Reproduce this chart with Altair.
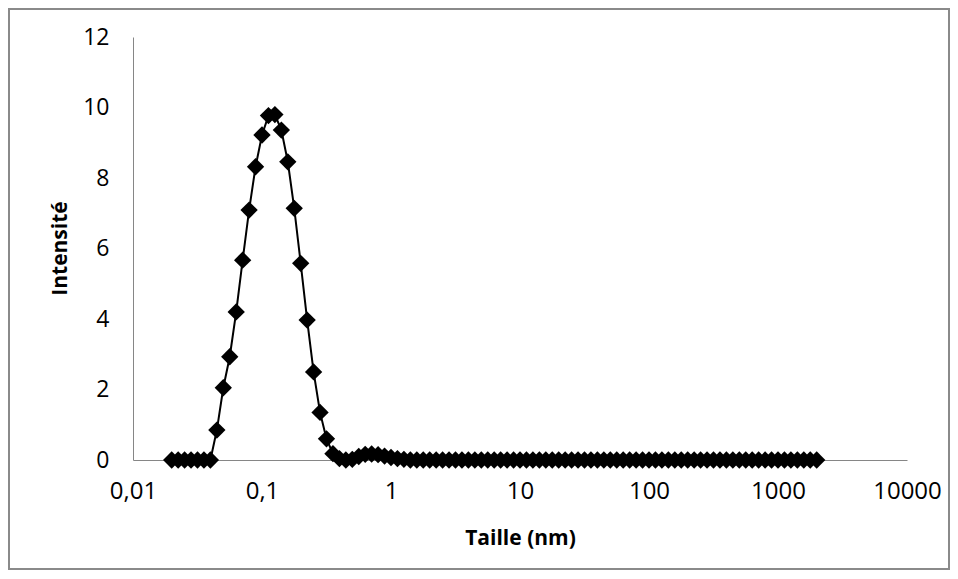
import altair as alt
import pandas as pd

# Particle size (nm), log-spaced bins
taille = [
    0.01995, 0.02239, 0.02512, 0.02818, 0.03162, 0.03548, 0.03981, 0.04467, 0.05012, 0.05623,
    0.06310, 0.07079, 0.07943, 0.08913, 0.1, 0.1122, 0.1259, 0.1413, 0.1585, 0.1778,
    0.1995, 0.2239, 0.2512, 0.2818, 0.3162, 0.3548, 0.3981, 0.4467, 0.5012, 0.5623,
    0.6310, 0.7079, 0.7943, 0.8913, 1.0, 1.122, 1.259, 1.413, 1.585, 1.778,
    1.995, 2.239, 2.512, 2.818, 3.162, 3.548, 3.981, 4.467, 5.012, 5.623,
    6.310, 7.079, 7.943, 8.913, 10.0, 11.22, 12.59, 14.13, 15.85, 17.78,
    19.95, 22.39, 25.12, 28.18, 31.62, 35.48, 39.81, 44.67, 50.12, 56.23,
    63.10, 70.79, 79.43, 89.13, 100.0, 112.2, 125.9, 141.3, 158.5, 177.8,
    199.5, 223.9, 251.2, 281.8, 316.2, 354.8, 398.1, 446.7, 501.2, 562.3,
    631.0, 707.9, 794.3, 891.3, 1000.0, 1122, 1259, 1413, 1585, 1778,
    1995,
]

intensite = [
    0, 0, 0, 0, 0, 0, 0, 0.85, 2.05, 2.93,
    4.20, 5.67, 7.09, 8.32, 9.22, 9.77, 9.80, 9.36, 8.46, 7.14,
    5.58, 3.97, 2.50, 1.35, 0.60, 0.18, 0.04, 0.0, 0.02, 0.10,
    0.16, 0.17, 0.15, 0.11, 0.07, 0.04, 0.02, 0, 0, 0,
    0, 0, 0, 0, 0, 0, 0, 0, 0, 0,
    0, 0, 0, 0, 0, 0, 0, 0, 0, 0,
    0, 0, 0, 0, 0, 0, 0, 0, 0, 0,
    0, 0, 0, 0, 0, 0, 0, 0, 0, 0,
    0, 0, 0, 0, 0, 0, 0, 0, 0, 0,
    0, 0, 0, 0, 0, 0, 0, 0, 0, 0,
    0,
]

x_ticks = [0.01, 0.1, 1, 10, 100, 1000, 10000]
y_ticks = [0, 2, 4, 6, 8, 10, 12]

df = pd.DataFrame({"Taille": taille, "Intensite": intensite})

FONT = "Open Sans"
GRAY = "#868686"

x_enc = alt.X(
    "Taille:Q",
    scale=alt.Scale(type="log", domain=[0.01, 10000], nice=False),
    axis=alt.Axis(
        title="Taille (nm)",
        values=x_ticks,
        labelExpr="replace(toString(datum.value), '.', ',')",
        grid=False,
        ticks=False,
        tickSize=0,
        domainColor=GRAY,
        domainWidth=1,
        labelFlush=False,
        labelOverlap=False,
        labelPadding=19,
        labelFontSize=24,
        labelFont=FONT,
        labelColor="#000000",
        titleFont=FONT,
        titleFontSize=21,
        titleFontWeight="bold",
        titleColor="#000000",
        titleBaseline="middle",
        titleY=78,
    ),
)
y_enc = alt.Y(
    "Intensite:Q",
    scale=alt.Scale(domain=[0, 12], nice=False),
    axis=alt.Axis(
        title="Intensité",
        values=y_ticks,
        grid=False,
        ticks=False,
        tickSize=0,
        domainColor=GRAY,
        domainWidth=1,
        labelFlush=False,
        labelPadding=24,
        labelFontSize=23,
        labelFont=FONT,
        labelColor="#000000",
        titleFont=FONT,
        titleFontSize=21,
        titleFontWeight="bold",
        titleColor="#000000",
        titleAngle=270,
        titleBaseline="middle",
        titleX=-73,
        titleY=211,
    ),
)

line = alt.Chart(df).mark_line(color="#000000", strokeWidth=2).encode(x=x_enc, y=y_enc)
pts = alt.Chart(df).mark_point(
    shape="diamond", filled=True, color="#000000", size=300, opacity=1
).encode(x=x_enc, y=y_enc)

border = alt.Chart(pd.DataFrame({"a": [0]})).mark_rect(
    fill=None, stroke="#8a8a8a", strokeWidth=2
).encode(
    x=alt.value(-124), x2=alt.value(816), y=alt.value(-28), y2=alt.value(532)
)

chart = alt.layer(border, line, pts).properties(
    width=774,
    height=423,
    autosize=alt.AutoSizeParams(type="none"),
    padding={"left": 125, "top": 29, "right": 43, "bottom": 110},
    background="#ffffff",
).configure_view(stroke=None)

chart.save("out.html", embed_options={"renderer": "svg", "actions": False})
